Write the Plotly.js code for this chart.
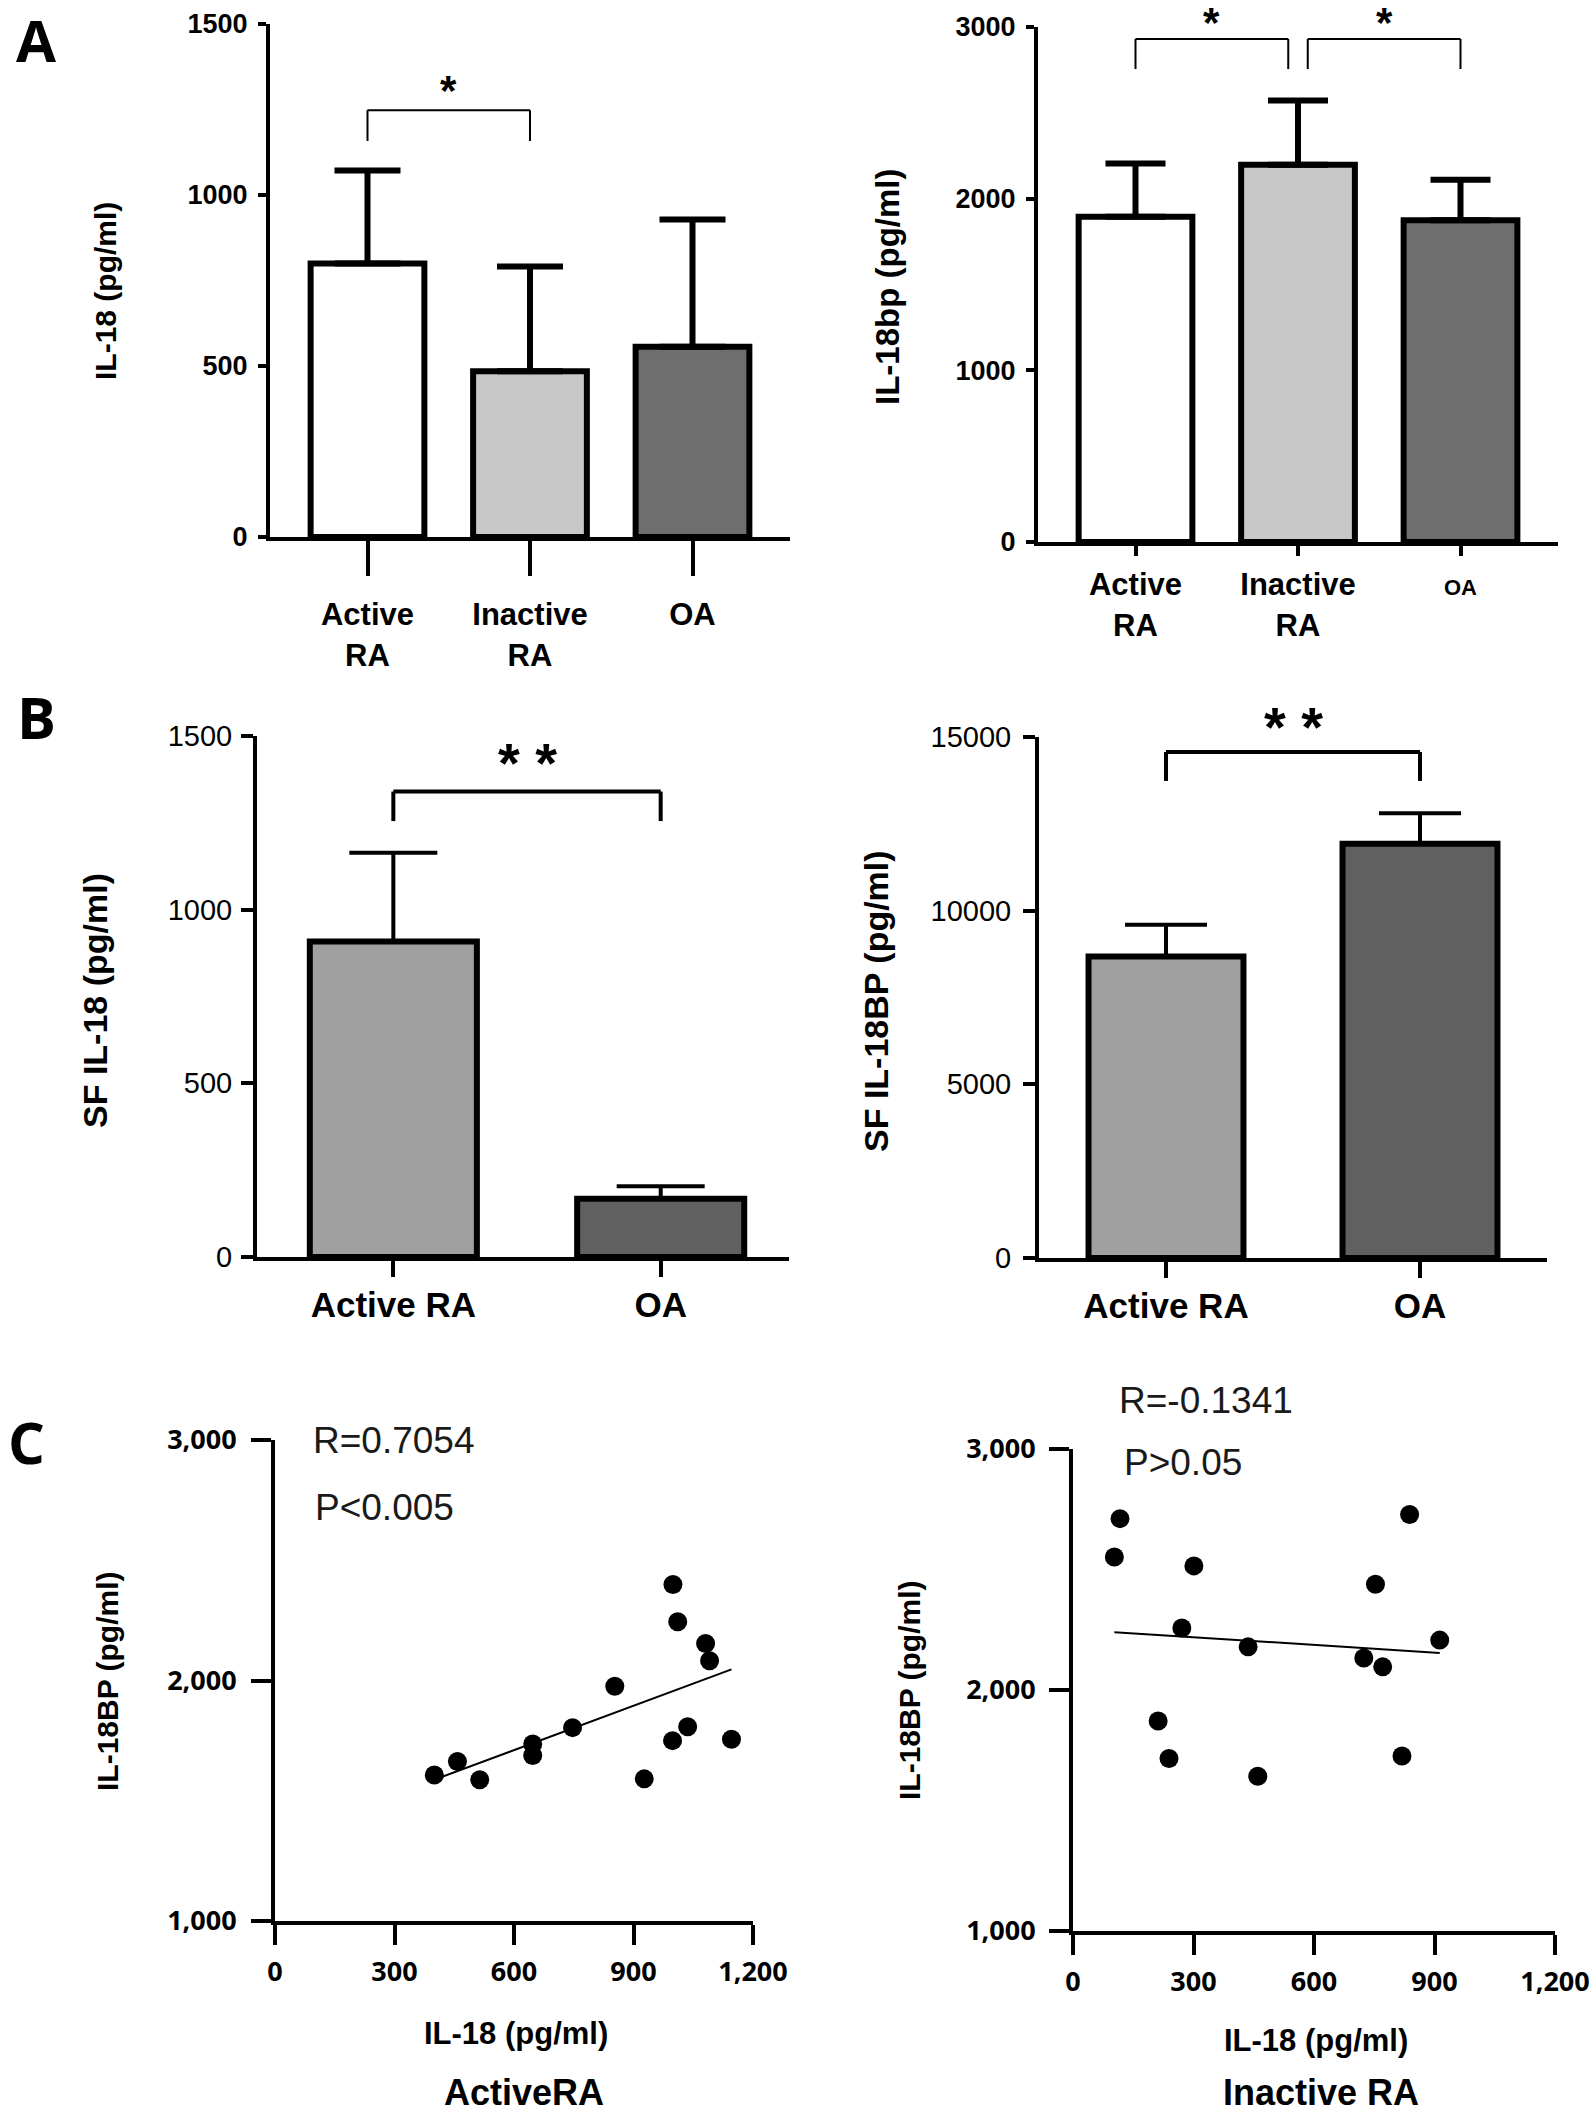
<!DOCTYPE html>
<html>
<head>
<meta charset="utf-8">
<script src="https://cdn.plot.ly/plotly-3.0.1.min.js"></script>
<style>
html,body{margin:0;padding:0;background:#ffffff;}
#chart{width:1594px;height:2120px;}
</style>
</head>
<body>
<div id="chart"></div>
<script>
// ---------------- data ----------------
const groupsA = ['Active RA', 'Inactive RA', 'OA'];
const groupLabelsA = ['Active<br>RA', 'Inactive<br>RA', 'OA'];
const serumIL18Mean = [800, 485, 556];
const serumIL18SD = [272, 306, 372];
const serumIL18bpMean = [1895, 2198, 1875];
const serumIL18bpSD = [310, 374, 235];

const groupsB = ['Active RA', 'OA'];
const sfIL18Mean = [908, 168];
const sfIL18SD = [256, 36];
const sfIL18BPMean = [8680, 11930];
const sfIL18BPSD = [915, 872];

const activeIL18 = [400, 458, 514, 647, 647, 747, 853, 927, 998, 999, 1011, 1036, 1081, 1091, 1146];
const activeIL18BP = [1607, 1663, 1587, 1736, 1688, 1804, 1976, 1591, 1750, 2399, 2244, 1808, 2154, 2082, 1756];
const inactiveIL18 = [103, 117, 212, 239, 271, 301, 436, 460, 724, 753, 771, 819, 838, 913];
const inactiveIL18BP = [2552, 2711, 1871, 1716, 2257, 2515, 2179, 1642, 2133, 2439, 2096, 1726, 2728, 2207];

const statsActive = ['R=0.7054', 'P<0.005'];
const statsInactive = ['R=-0.1341', 'P>0.05'];

// ---------------- helpers ----------------
const W = 1594, H = 2120;
const xd = (l, r) => [l / W, r / W];
const yd = (t, b) => [1 - b / H, 1 - t / H];
const px = v => v / W;
const py = v => 1 - v / H;
const ARIAL = 'Liberation Sans, Arial, sans-serif';
const SEGOE = 'Open Sans, Noto Sans, sans-serif';

function linFit(xs, ys) {
  const n = xs.length;
  const mx = xs.reduce((a, b) => a + b, 0) / n;
  const my = ys.reduce((a, b) => a + b, 0) / n;
  let sxy = 0, sxx = 0;
  for (let i = 0; i < n; i++) { sxy += (xs[i] - mx) * (ys[i] - my); sxx += (xs[i] - mx) ** 2; }
  const b = sxy / sxx, a = my - b * mx;
  const x0 = Math.min(...xs), x1 = Math.max(...xs);
  return { x: [x0, x1], y: [a + b * x0, a + b * x1] };
}

const fitA = linFit(activeIL18, activeIL18BP);
const fitI = linFit(inactiveIL18, inactiveIL18BP);

function barTrace(x, y, sd, colors, xa, ya, width, lw, ew, eth) {
  return {
    type: 'bar', x: x, y: y, xaxis: xa, yaxis: ya, width: width,
    marker: { color: colors, line: { color: '#000', width: lw } },
    error_y: { type: 'data', symmetric: false, array: sd, arrayminus: sd.map(() => 0),
               color: '#000', thickness: eth, width: ew, visible: true },
    showlegend: false, hoverinfo: 'none'
  };
}

const data = [
  barTrace(groupsA, serumIL18Mean, serumIL18SD, ['#ffffff', '#c8c8c8', '#6e6e6e'], 'x', 'y', 0.7, 6, 33, 6),
  barTrace(groupsA, serumIL18bpMean, serumIL18bpSD, ['#ffffff', '#c8c8c8', '#6e6e6e'], 'x2', 'y2', 0.7, 6, 30, 6),
  barTrace(groupsB, sfIL18Mean, sfIL18SD, ['#a0a0a0', '#606060'], 'x3', 'y3', 0.625, 6, 44, 4),
  barTrace(groupsB, sfIL18BPMean, sfIL18BPSD, ['#a0a0a0', '#606060'], 'x4', 'y4', 0.61, 6, 41, 4),
  { type: 'scatter', mode: 'lines', x: fitA.x, y: fitA.y, xaxis: 'x5', yaxis: 'y5',
    line: { color: '#000', width: 2 }, showlegend: false, hoverinfo: 'none' },
  { type: 'scatter', mode: 'markers', x: activeIL18, y: activeIL18BP, xaxis: 'x5', yaxis: 'y5',
    marker: { color: '#000', size: 19 }, showlegend: false, hoverinfo: 'none', cliponaxis: false },
  { type: 'scatter', mode: 'lines', x: fitI.x, y: fitI.y, xaxis: 'x6', yaxis: 'y6',
    line: { color: '#000', width: 2 }, showlegend: false, hoverinfo: 'none' },
  { type: 'scatter', mode: 'markers', x: inactiveIL18, y: inactiveIL18BP, xaxis: 'x6', yaxis: 'y6',
    marker: { color: '#000', size: 19 }, showlegend: false, hoverinfo: 'none', cliponaxis: false }
];

function catAxis(domain, anchor, cats, labels, range, ticklen, fontSize, standoff) {
  return {
    domain: domain, anchor: anchor, type: 'category', range: range,
    tickvals: cats, ticktext: labels,
    showline: true, linecolor: '#000', linewidth: 4,
    ticks: 'outside', ticklen: ticklen, tickwidth: 4, tickcolor: '#000',
    tickfont: { family: ARIAL, size: fontSize, color: '#000', weight: 700 },
    ticklabelstandoff: standoff,
    showgrid: false, zeroline: false, fixedrange: true
  };
}
function valAxis(domain, anchor, range, tickvals, fontSize, weight, family, ticklen, standoff, fmt) {
  return {
    domain: domain, anchor: anchor, range: range, tickvals: tickvals,
    tickformat: fmt || 'd',
    showline: true, linecolor: '#000', linewidth: 4,
    ticks: 'outside', ticklen: ticklen, tickwidth: 4, tickcolor: '#000',
    tickfont: { family: family, size: fontSize, color: '#000', weight: weight },
    ticklabelstandoff: standoff,
    showgrid: false, zeroline: false, fixedrange: true
  };
}

function bracket(xa, ya, x0, x1, yLow, yHigh, w) {
  const base = { type: 'line', xref: xa, yref: ya, line: { color: '#000', width: w } };
  return [
    Object.assign({}, base, { x0: x0, x1: x0, y0: yLow, y1: yHigh }),
    Object.assign({}, base, { x0: x0, x1: x1, y0: yHigh, y1: yHigh }),
    Object.assign({}, base, { x0: x1, x1: x1, y0: yHigh, y1: yLow })
  ];
}

const shapes = [].concat(
  bracket('x', 'y', 0, 1, 1158, 1248, 2),
  bracket('x2', 'y2', 0, 0.94, 2755, 2930, 2),
  bracket('x2', 'y2', 1.06, 2, 2755, 2930, 2),
  bracket('x3', 'y3', 0, 1, 1255, 1340, 4),
  bracket('x4', 'y4', 0, 1, 13735, 14570, 4)
);

function txt(x, y, text, size, opts) {
  return Object.assign({
    xref: 'paper', yref: 'paper', x: px(x), y: py(y), text: text, showarrow: false,
    xanchor: 'center', yanchor: 'middle',
    font: { family: ARIAL, size: size, color: '#000', weight: 700 }
  }, opts || {});
}
function star(xa, x, yPix, text, size) {
  return { xref: xa, yref: 'paper', x: x, y: py(yPix), text: text, showarrow: false,
           xanchor: 'center', yanchor: 'middle',
           font: { family: ARIAL, size: size, color: '#000', weight: 700 } };
}
const statFont = { family: ARIAL, size: 37, color: '#1a1a1a', weight: 400 };
const letterFont = { family: SEGOE, size: 58, color: '#000', weight: 700 };

const annotations = [
  txt(36, 40, 'A', 58, { font: letterFont }),
  txt(36, 716, 'B', 58, { font: letterFont }),
  txt(26, 1441, 'C', 58, { font: letterFont }),
  txt(105, 291, 'IL-18 (pg/ml)', 30, { textangle: -90 }),
  txt(888, 287, 'IL-18bp (pg/ml)', 33, { textangle: -90 }),
  txt(95, 1001, 'SF IL-18 (pg/ml)', 34, { textangle: -90 }),
  txt(876, 1001, 'SF IL-18BP (pg/ml)', 34, { textangle: -90 }),
  txt(107, 1682, 'IL-18BP (pg/ml)', 30, { textangle: -90 }),
  txt(909, 1691, 'IL-18BP (pg/ml)', 30, { textangle: -90 }),
  txt(516, 2033, 'IL-18 (pg/ml)', 31),
  txt(1316, 2040, 'IL-18 (pg/ml)', 31),
  txt(524, 2092, 'ActiveRA', 36),
  txt(1321, 2092, 'Inactive RA', 36),
  txt(311, 1440, statsActive[0], 37, { xanchor: 'left', font: statFont }),
  txt(313, 1507, statsActive[1], 37, { xanchor: 'left', font: statFont }),
  txt(1117, 1400, statsInactive[0], 37, { xanchor: 'left', font: statFont }),
  txt(1122, 1462, statsInactive[1], 37, { xanchor: 'left', font: statFont }),
  star('x', 0.5, 90, '*', 42),
  star('x2', 0.47, 22, '*', 42),
  star('x2', 1.53, 22, '*', 42),
  star('x3', 0.5, 762, '* *', 56),
  star('x4', 0.5, 726, '* *', 56)
];

const layout = {
  width: W, height: H,
  margin: { l: 0, r: 0, t: 0, b: 0, pad: 0 },
  paper_bgcolor: '#ffffff', plot_bgcolor: 'rgba(0,0,0,0)',
  showlegend: false, hovermode: false, bargap: 0,
  xaxis:  catAxis(xd(270, 790),  'y',  groupsA, groupLabelsA, [-0.6, 2.6], 35, 31, 12),
  yaxis:  valAxis(yd(24, 537),   'x',  [0, 1500], [0, 500, 1000, 1500], 27, 700, ARIAL, 8, 5),
  xaxis2: catAxis(xd(1038, 1558), 'y2', groupsA,
                  ['Active<br>RA', 'Inactive<br>RA', '<span style="font-size:22px">OA</span>'],
                  [-0.6, 2.6], 10, 31, 2),
  yaxis2: valAxis(yd(27, 542),   'x2', [0, 3000], [0, 1000, 2000, 3000], 27, 700, ARIAL, 8, 5),
  xaxis3: catAxis(xd(257, 789),  'y3', groupsB, groupsB, [-0.51, 1.48], 16, 35, -2),
  yaxis3: valAxis(yd(736, 1257), 'x3', [0, 1500], [0, 500, 1000, 1500], 29, 400, ARIAL, 12, 3),
  xaxis4: catAxis(xd(1039, 1547), 'y4', groupsB, groupsB, [-0.5, 1.5], 16, 35, -2),
  yaxis4: valAxis(yd(737, 1258), 'x4', [0, 15000], [0, 5000, 10000, 15000], 29, 400, ARIAL, 12, 6),
  xaxis5: valAxis(xd(275, 753),  'y5', [0, 1200], [0, 300, 600, 900, 1200], 27, 700, SEGOE, 20, 4, ',d'),
  yaxis5: valAxis(yd(1440, 1921), 'x5', [1000, 3000], [1000, 2000, 3000], 27, 700, SEGOE, 20, 9, ',d'),
  xaxis6: valAxis(xd(1073, 1555), 'y6', [0, 1200], [0, 300, 600, 900, 1200], 27, 700, SEGOE, 20, 4, ',d'),
  yaxis6: valAxis(yd(1449, 1931), 'x6', [1000, 3000], [1000, 2000, 3000], 27, 700, SEGOE, 20, 8, ',d'),
  shapes: shapes,
  annotations: annotations
};

Plotly.newPlot('chart', data, layout, { staticPlot: true, displayModeBar: false });
</script>
</body>
</html>
